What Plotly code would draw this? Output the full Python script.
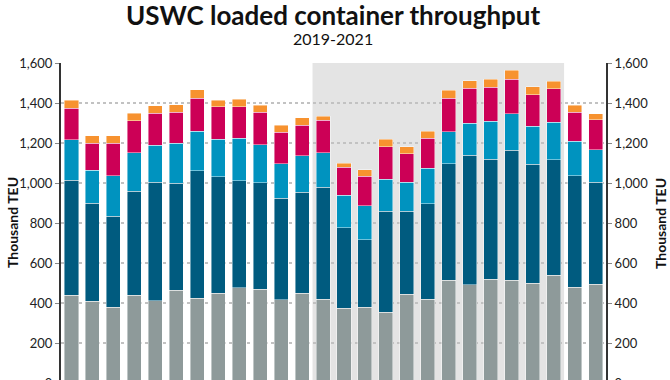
import plotly.graph_objects as go

months = ["Jan-19","Feb-19","Mar-19","Apr-19","May-19","Jun-19","Jul-19","Aug-19","Sep-19","Oct-19","Nov-19","Dec-19",
          "Jan-20","Feb-20","Mar-20","Apr-20","May-20","Jun-20","Jul-20","Aug-20","Sep-20","Oct-20","Nov-20","Dec-20",
          "Jan-21","Feb-21"]

seg_gray = [440,408,378,440,412,465,423,448,477,468,417,448,420,375,380,355,445,420,515,492,518,515,500,540,480,493]
seg_dark = [575,490,455,518,591,535,639,584,535,534,508,505,560,402,337,503,413,477,582,646,602,650,595,577,557,512]
seg_light = [202,167,204,194,185,200,196,188,213,190,172,184,172,161,170,162,147,176,160,162,190,182,190,188,171,162]
seg_mag = [156,135,163,160,162,155,167,162,157,163,158,153,163,140,148,162,142,150,168,173,170,173,157,167,147,150]
seg_orange = [40,37,37,36,37,37,42,31,38,35,33,37,20,20,32,38,35,35,38,39,38,45,40,38,35,30]

series = [
    ("Series 1", seg_gray, "#8e9a9a"),
    ("Series 2", seg_dark, "#005b7f"),
    ("Series 3", seg_light, "#0093bf"),
    ("Series 4", seg_mag, "#cc0056"),
    ("Series 5", seg_orange, "#f7922f"),
]

y_ticks = [0, 200, 400, 600, 800, 1000, 1200, 1400, 1600]
y_ticktext = ["0", "200", "400", "600", "800", "1,000", "1,200", "1,400", "1,600"]
shade_start, shade_end = "Jan-20", "Dec-20"

fig = go.Figure()
for name, vals, col in series:
    fig.add_trace(go.Bar(x=months, y=vals, name=name,
                         marker=dict(color=col, line=dict(color="rgba(255,255,255,0.55)", width=0.8)),
                         showlegend=False))

i0 = months.index(shade_start)
i1 = months.index(shade_end)
fig.add_shape(type="rect", xref="x", yref="y", x0=i0 - 0.5, x1=i1 + 0.5, y0=0, y1=1600,
              fillcolor="#e4e4e4", line=dict(width=0), layer="below")

fig.add_trace(go.Scatter(x=[months[0]], y=[None], yaxis="y2", showlegend=False, hoverinfo="skip"))

H = 460
axis_common = dict(range=[0, 1600], tickvals=y_ticks, ticktext=y_ticktext, showline=True, linecolor="#333333",
                   linewidth=2, ticks="outside", ticklen=4, tickcolor="#888888", tickwidth=1,
                   tickfont=dict(family="Lato", size=13, color="#222222"), zeroline=False)

fig.update_layout(
    width=670, height=H, autosize=False,
    margin=dict(l=61, r=64, t=63, b=H - 383),
    plot_bgcolor="white", paper_bgcolor="white",
    barmode="stack", bargap=0.33,
    font=dict(family="Lato", color="#111111"),
    xaxis=dict(range=[-0.5, len(months) - 0.5], showgrid=False, showline=False, ticks="",
               showticklabels=False),
    yaxis=dict(**axis_common, showgrid=True, gridcolor="#c2c2c2", gridwidth=1.5, griddash="dot"),
    yaxis2=dict(**axis_common, overlaying="y", side="right", showgrid=False),
    annotations=[
        dict(text="<b>USWC loaded container throughput</b>", x=0.5, xref="paper", y=(383.3 - 15) / 320, yref="paper",
             showarrow=False, xanchor="center", yanchor="middle", font=dict(family="Lato", size=26, color="#111111")),
        dict(text="2019-2021", x=(333 - 61) / 545, xref="paper", y=(383.3 - 39) / 320, yref="paper",
             showarrow=False, xanchor="center", yanchor="middle", font=dict(family="Lato", size=16, color="#111111")),
        dict(text="<b>Thousand TEU</b>", textangle=-90, x=(12 - 61) / 545, xref="paper", y=0.5, yref="paper",
             showarrow=False, xanchor="center", yanchor="middle", font=dict(family="Lato", size=14, color="#111111")),
        dict(text="<b>Thousand TEU</b>", textangle=-90, x=(660 - 61) / 545, xref="paper", y=0.5, yref="paper",
             showarrow=False, xanchor="center", yanchor="middle", font=dict(family="Lato", size=14, color="#111111")),
    ],
)

fig.write_html("out.html", config={"displayModeBar": False}, post_script="document.body.style.margin='0';")
